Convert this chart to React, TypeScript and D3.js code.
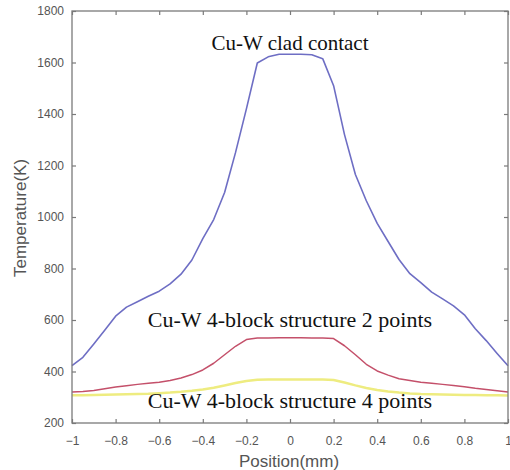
import React, { useEffect, useRef } from "react";
import * as d3 from "d3";

const positions = [
  -1, -0.95, -0.9, -0.85, -0.8, -0.75, -0.7, -0.65, -0.6, -0.55, -0.5, -0.45, -0.4, -0.35, -0.3, -0.25, -0.2,
  -0.15, -0.1, -0.05, 0, 0.05, 0.1, 0.15, 0.2, 0.25, 0.3, 0.35, 0.4, 0.45, 0.5, 0.55, 0.6, 0.65, 0.7, 0.75,
  0.8, 0.85, 0.9, 0.95, 1,
];

const cladContact = [
  423, 455, 507, 560, 615, 650, 671, 692, 712, 740, 778, 833, 916, 990, 1095, 1250, 1420, 1598, 1622, 1632,
  1632, 1632, 1630, 1615, 1510, 1320, 1165, 1063, 975, 905, 835, 780, 745, 708, 682, 655, 620, 566, 520,
  470, 422,
];

const block2 = [
  320, 322, 326, 333, 340, 345, 350, 354, 358, 365, 375, 388, 406, 432, 465, 498, 524, 530, 530, 531, 531,
  531, 530, 530, 528, 500, 465, 428, 402, 386, 372, 365, 358, 354, 350, 346, 341, 335, 330, 325, 320,
];

const block4 = [
  308, 308, 309, 310, 311, 312, 313, 314, 316, 318, 321, 325, 330, 337, 346, 355, 363, 368, 369, 369, 369,
  369, 369, 369, 367, 357, 346, 336, 328, 322, 318, 315, 313, 312, 311, 310, 309, 309, 308, 308, 307,
];

const xTicks = [-1, -0.8, -0.6, -0.4, -0.2, 0, 0.2, 0.4, 0.6, 0.8, 1];
const yTicks = [200, 400, 600, 800, 1000, 1200, 1400, 1600, 1800];

const series = [
  { name: "clad", values: cladContact, color: "#6e6ec4", width: 1.6, label: "Cu-W clad contact", labelY: 1648, size: 21 },
  { name: "block2", values: block2, color: "#c4506a", width: 1.5, label: "Cu-W 4-block structure 2 points", labelY: 573, size: 22 },
  { name: "block4", values: block4, color: "#eeec80", width: 2.5, label: "Cu-W 4-block structure 4 points", labelY: 258, size: 22 },
];

const App = () => {
  const svgRef = useRef<SVGSVGElement>(null);

  useEffect(() => {
    const width = 510;
    const height = 470;
    const m = { left: 72, right: 2, top: 11, bottom: 47 };

    const svg = d3.select(svgRef.current);
    svg.selectAll("*").remove();
    svg.attr("width", width).attr("height", height);

    const x = d3.scaleLinear().domain([-1, 1]).range([m.left, width - m.right]);
    const y = d3.scaleLinear().domain([200, 1800]).range([height - m.bottom, m.top]);

    const axisColor = "#7a7a7a";
    const textColor = "#555";
    const sans = "'Liberation Sans', Arial, sans-serif";

    const styleAxis = (g: any) => {
      g.select(".domain").remove();
      g.selectAll(".tick line").attr("stroke", axisColor).attr("stroke-width", 1.2);
      g.selectAll(".tick text").attr("fill", textColor).style("font-family", sans).style("font-size", "12px");
    };

    // bottom and left axes with inward ticks
    svg
      .append("g")
      .attr("transform", `translate(0,${y(200)})`)
      .call(d3.axisBottom(x).tickValues(xTicks).tickSize(-4).tickPadding(13).tickFormat(d3.format("")))
      .call(styleAxis);

    svg
      .append("g")
      .attr("transform", `translate(${x(-1)},0)`)
      .call(d3.axisLeft(y).tickValues(yTicks).tickSize(-4).tickPadding(8).tickFormat(d3.format("d")))
      .call(styleAxis);

    // top and right ticks, no labels
    svg
      .append("g")
      .attr("transform", `translate(0,${y(1800)})`)
      .call(d3.axisTop(x).tickValues(xTicks).tickSize(-4).tickFormat(() => ""))
      .call(styleAxis);

    svg
      .append("g")
      .attr("transform", `translate(${x(1)},0)`)
      .call(d3.axisRight(y).tickValues(yTicks).tickSize(-4).tickFormat(() => ""))
      .call(styleAxis);

    // minus signs like the original
    svg.selectAll(".tick text").text(function () {
      return d3.select(this).text().replace("-", "\u2212");
    });

    const line = d3
      .line<number>()
      .x((d, i) => x(positions[i]))
      .y((d) => y(d));

    series
      .slice()
      .reverse()
      .forEach((s) => {
        svg
          .append("path")
          .datum(s.values)
          .attr("fill", "none")
          .attr("stroke", s.color)
          .attr("stroke-width", s.width)
          .attr("stroke-linejoin", "round")
          .attr("d", line);
      });

    // frame
    svg
      .append("rect")
      .attr("x", x(-1))
      .attr("y", y(1800))
      .attr("width", x(1) - x(-1))
      .attr("height", y(200) - y(1800))
      .attr("fill", "none")
      .attr("stroke", axisColor)
      .attr("stroke-width", 1.3);

    series.forEach((s) => {
      svg
        .append("text")
        .attr("x", x(0))
        .attr("y", y(s.labelY))
        .attr("text-anchor", "middle")
        .attr("fill", "#111")
        .style("font-family", "'Liberation Serif', 'Times New Roman', serif")
        .style("font-size", `${s.size}px`)
        .text(s.label);
    });

    svg
      .append("text")
      .attr("x", x(0) - 1)
      .attr("y", 467)
      .attr("text-anchor", "middle")
      .attr("fill", textColor)
      .style("font-family", sans)
      .style("font-size", "17px")
      .text("Position(mm)");

    svg
      .append("text")
      .attr("transform", `translate(26,218) rotate(-90)`)
      .attr("text-anchor", "middle")
      .attr("fill", textColor)
      .style("font-family", sans)
      .style("font-size", "17px")
      .text("Temperature(K)");
  }, []);

  return <svg ref={svgRef} style={{ position: "absolute", left: 0, top: 0, background: "#fff" }}></svg>;
};

export default App;
